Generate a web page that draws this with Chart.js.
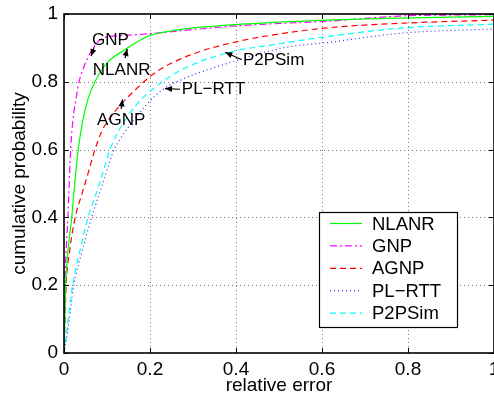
<!DOCTYPE html>
<html>
<head>
<meta charset="utf-8">
<script src="https://cdn.jsdelivr.net/npm/chart.js@4/dist/chart.umd.min.js"></script>
<style>
html,body{margin:0;padding:0;background:#fff;}
canvas{display:block;}
</style>
</head>
<body>
<canvas id="c" width="494" height="395"></canvas>
<script>
// ---- data ----
const tickValues = [0, 0.2, 0.4, 0.6, 0.8, 1];
const xTickLabels = ["0", "0.2", "0.4", "0.6", "0.8", "1"];
const yTickLabels = ["0", "0.2", "0.4", "0.6", "0.8", "1"];
const xTitle = "relative error";
const yTitle = "cumulative probability";
const seriesNames = ["NLANR", "GNP", "AGNP", "PL\u2212RTT", "P2PSim"];

const nlanrX = [0, 0.004, 0.01, 0.018, 0.025, 0.033, 0.044, 0.056, 0.072, 0.09, 0.11, 0.142, 0.16, 0.18, 0.2, 0.23, 0.27, 0.32, 0.39, 0.5, 0.61, 0.75, 0.9, 1.0];
const nlanrY = [0, 0.2, 0.31, 0.4, 0.5, 0.6, 0.687, 0.75, 0.80, 0.84, 0.868, 0.895, 0.91, 0.925, 0.937, 0.946, 0.954, 0.961, 0.968, 0.976, 0.982, 0.987, 0.991, 0.993];

const gnpX = [0, 0.002, 0.005, 0.009, 0.0155, 0.021, 0.028, 0.035, 0.045, 0.055, 0.068, 0.08, 0.095, 0.13, 0.17, 0.2, 0.3, 0.39, 0.5, 0.62, 0.7, 0.78, 0.9, 1.0];
const gnpY = [0, 0.2, 0.3, 0.4, 0.6, 0.69, 0.75, 0.8, 0.84, 0.87, 0.9, 0.92, 0.931, 0.936, 0.939, 0.942, 0.954, 0.964, 0.972, 0.979, 0.987, 0.994, 0.997, 0.998];

const agnpX = [0, 0.005, 0.013, 0.026, 0.042, 0.056, 0.072, 0.088, 0.105, 0.13, 0.158, 0.2, 0.228, 0.3, 0.39, 0.51, 0.62, 0.79, 1.0];
const agnpY = [0, 0.2, 0.3, 0.4, 0.47, 0.53, 0.6, 0.655, 0.69, 0.73, 0.767, 0.815, 0.84, 0.882, 0.915, 0.943, 0.96, 0.973, 0.982];

const plrttX = [0, 0.008, 0.023, 0.04, 0.064, 0.077, 0.09, 0.115, 0.13, 0.149, 0.17, 0.19, 0.228, 0.28, 0.355, 0.51, 0.62, 0.79, 1.0];
const plrttY = [0, 0.06, 0.2, 0.29, 0.4, 0.45, 0.5, 0.595, 0.63, 0.665, 0.7, 0.73, 0.776, 0.81, 0.844, 0.9, 0.917, 0.944, 0.956];

const p2psimX = [0, 0.007, 0.02, 0.035, 0.056, 0.072, 0.084, 0.107, 0.125, 0.142, 0.17, 0.204, 0.24, 0.277, 0.378, 0.51, 0.62, 0.79, 1.0];
const p2psimY = [0, 0.07, 0.2, 0.29, 0.4, 0.46, 0.505, 0.6, 0.65, 0.687, 0.735, 0.776, 0.81, 0.838, 0.885, 0.914, 0.935, 0.959, 0.97];

// annotations: [text, textX, textY, arrowTailX, arrowTailY, arrowTipX, arrowTipY] in data units
const annotations = [
  ["GNP",    0.065, 0.923, 0.070, 0.902, 0.063, 0.876],
  ["NLANR",  0.067, 0.835, 0.142, 0.870, 0.147, 0.897],
  ["AGNP",   0.077, 0.687, 0.133, 0.720, 0.136, 0.748],
  ["PL\u2212RTT", 0.274, 0.778, 0.270, 0.778, 0.235, 0.780],
  ["P2PSim", 0.416, 0.864, 0.412, 0.866, 0.375, 0.887]
];

function pts(xs, ys) { return xs.map((x, i) => ({x: x, y: ys[i]})); }

const styles = [
  {color: "#00ff00", dash: []},
  {color: "#ff00ff", dash: [7, 3, 2, 3]},
  {color: "#ff0000", dash: [6, 4]},
  {color: "#3333ff", dash: [1, 3]},
  {color: "#00ffff", dash: [6, 4]}
];
const seriesData = [pts(nlanrX, nlanrY), pts(gnpX, gnpY), pts(agnpX, agnpY), pts(plrttX, plrttY), pts(p2psimX, p2psimY)];

const FONT = "'Liberation Sans', Arial, Helvetica, sans-serif";

const decor = {
  id: "decor",
  beforeDatasetsDraw(chart) {
    const ctx = chart.ctx, a = chart.chartArea;
    const xs = chart.scales.x, ys = chart.scales.y;
    ctx.save();
    ctx.strokeStyle = "#777";
    ctx.lineWidth = 1;
    ctx.setLineDash([1, 3]);
    tickValues.forEach(v => {
      if (v <= 0 || v >= 1) return;
      const px = Math.round(xs.getPixelForValue(v)) + 0.5;
      ctx.beginPath(); ctx.moveTo(px, a.top); ctx.lineTo(px, a.bottom); ctx.stroke();
      const py = Math.round(ys.getPixelForValue(v)) + 0.5;
      ctx.beginPath(); ctx.moveTo(a.left, py); ctx.lineTo(a.right, py); ctx.stroke();
    });
    ctx.restore();
  },
  afterDatasetsDraw(chart) {
    const ctx = chart.ctx, a = chart.chartArea;
    const xs = chart.scales.x, ys = chart.scales.y;
    ctx.save();
    // frame
    ctx.setLineDash([]);
    ctx.strokeStyle = "#000";
    ctx.lineWidth = 1.6;
    ctx.strokeRect(a.left, a.top, a.right - a.left, a.bottom - a.top);
    // inward ticks
    ctx.lineWidth = 1;
    const tl = 5;
    tickValues.forEach(v => {
      const px = Math.round(xs.getPixelForValue(v)) + 0.5;
      ctx.beginPath(); ctx.moveTo(px, a.bottom); ctx.lineTo(px, a.bottom - tl); ctx.stroke();
      ctx.beginPath(); ctx.moveTo(px, a.top); ctx.lineTo(px, a.top + tl); ctx.stroke();
      const py = Math.round(ys.getPixelForValue(v)) + 0.5;
      ctx.beginPath(); ctx.moveTo(a.left, py); ctx.lineTo(a.left + tl, py); ctx.stroke();
      ctx.beginPath(); ctx.moveTo(a.right, py); ctx.lineTo(a.right - tl, py); ctx.stroke();
    });
    // annotations
    ctx.fillStyle = "#000";
    ctx.font = "17px " + FONT;
    ctx.textBaseline = "middle";
    ctx.textAlign = "left";
    annotations.forEach(an => {
      const tx = xs.getPixelForValue(an[1]), ty = ys.getPixelForValue(an[2]);
      ctx.fillText(an[0], tx, ty);
      const x0 = xs.getPixelForValue(an[3]), y0 = ys.getPixelForValue(an[4]);
      const x1 = xs.getPixelForValue(an[5]), y1 = ys.getPixelForValue(an[6]);
      ctx.beginPath(); ctx.moveTo(x0, y0); ctx.lineTo(x1, y1); ctx.lineWidth = 1.2; ctx.stroke();
      const ang = Math.atan2(y1 - y0, x1 - x0), L = 7, W = 3;
      ctx.beginPath();
      ctx.moveTo(x1, y1);
      ctx.lineTo(x1 - L * Math.cos(ang) + W * Math.sin(ang), y1 - L * Math.sin(ang) - W * Math.cos(ang));
      ctx.lineTo(x1 - L * Math.cos(ang) - W * Math.sin(ang), y1 - L * Math.sin(ang) + W * Math.cos(ang));
      ctx.closePath(); ctx.fill();
    });
    // legend box
    const bx = 319.5, by = 212.5, bw = 138, bh = 115;
    ctx.fillStyle = "#fff";
    ctx.fillRect(bx, by, bw, bh);
    ctx.strokeStyle = "#000"; ctx.lineWidth = 1.2;
    ctx.strokeRect(bx, by, bw, bh);
    ctx.font = "18.5px " + FONT;
    seriesNames.forEach((name, i) => {
      const cy = 223.5 + i * 22.4;
      ctx.strokeStyle = styles[i].color; ctx.lineWidth = 1.2;
      ctx.setLineDash(styles[i].dash);
      ctx.beginPath(); ctx.moveTo(330, cy); ctx.lineTo(362, cy); ctx.stroke();
      ctx.setLineDash([]);
      ctx.fillStyle = "#000";
      ctx.fillText(name, 372, cy + 1);
    });
    ctx.restore();
  }
};

new Chart(document.getElementById("c"), {
  type: "line",
  data: {
    datasets: seriesNames.map((name, i) => ({
      label: name,
      data: seriesData[i],
      borderColor: styles[i].color,
      borderDash: styles[i].dash,
      borderWidth: 1.2,
      pointRadius: 0,
      fill: false,
      cubicInterpolationMode: "monotone"
    }))
  },
  options: {
    responsive: false,
    devicePixelRatio: 1,
    animation: false,
    layout: {padding: {top: 14, right: 0, left: 0, bottom: 0}},
    plugins: {legend: {display: false}, tooltip: {enabled: false}},
    scales: {
      x: {
        type: "linear", min: 0, max: 1,
        grid: {display: false, drawTicks: false},
        border: {display: false},
        afterBuildTicks: s => { s.ticks = tickValues.map(v => ({value: v})); },
        ticks: {
          color: "#000", padding: 5, maxRotation: 0, autoSkip: false,
          font: {family: FONT, size: 19},
          callback: (v, i) => xTickLabels[i]
        },
        title: {display: true, text: xTitle, color: "#000", padding: {top: 0, bottom: 0}, font: {family: FONT, size: 19, lineHeight: 1.0}},
        afterFit: s => { s.height = 42; s.paddingLeft = 0; s.paddingRight = 0; }
      },
      y: {
        type: "linear", min: 0, max: 1,
        grid: {display: false, drawTicks: false},
        border: {display: false},
        afterBuildTicks: s => { s.ticks = tickValues.map(v => ({value: v})); },
        ticks: {
          color: "#000", padding: 6, autoSkip: false,
          font: {family: FONT, size: 19},
          callback: (v, i) => yTickLabels[i]
        },
        title: {display: true, text: yTitle, color: "#000", padding: {top: 8, bottom: 0}, font: {family: FONT, size: 19, lineHeight: 1.2}},
        afterFit: s => { s.width = 64; s.paddingTop = 0; s.paddingBottom = 0; }
      }
    }
  },
  plugins: [decor]
});
</script>
</body>
</html>
